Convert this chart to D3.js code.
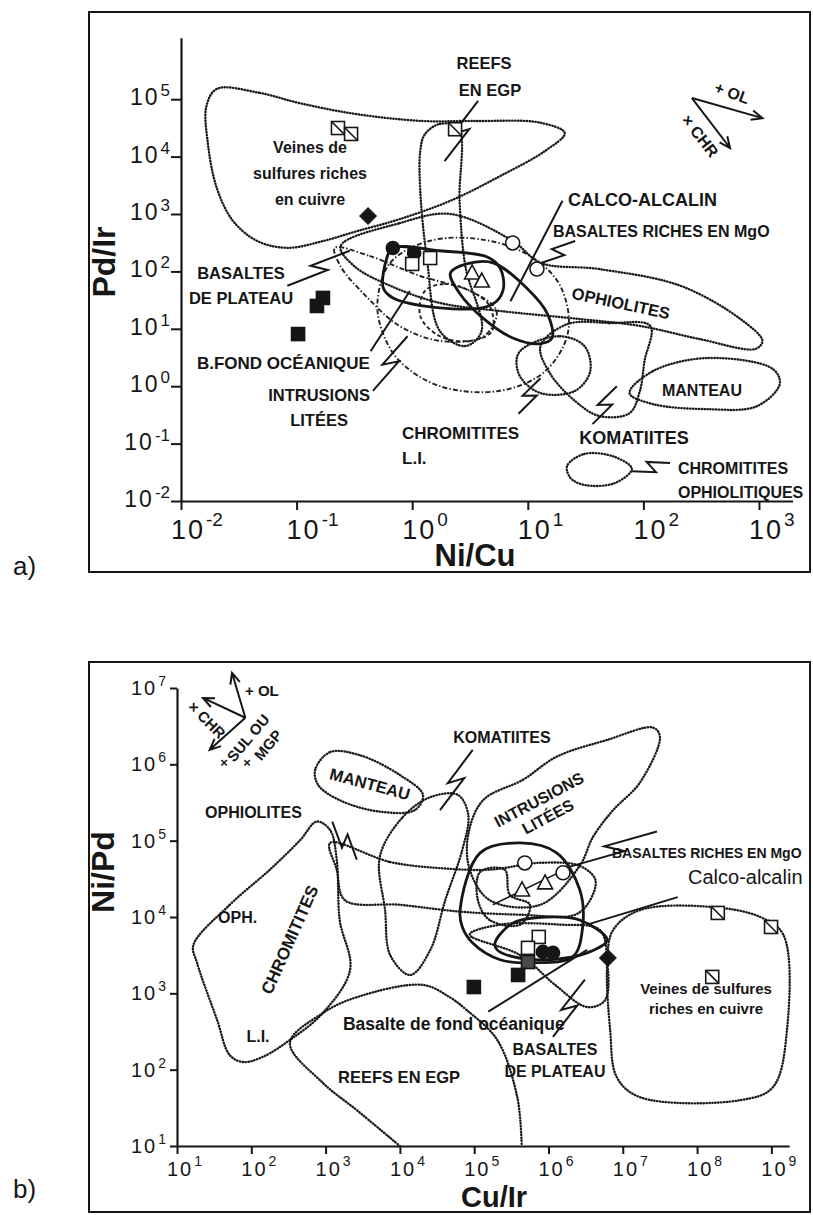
<!DOCTYPE html>
<html>
<head>
<meta charset="utf-8">
<script src="https://cdn.jsdelivr.net/npm/d3@7"></script>
<style>
body { margin: 0; background: #fff; }
svg { font-family: "Liberation Sans", Arial, Helvetica, sans-serif; }
</style>
</head>
<body>
<svg width="813" height="1215"></svg>
<script>
// ---------- panel a : Pd/Ir vs Ni/Cu (fields as [log10 Ni/Cu, log10 Pd/Ir]) ----------
var aTicksX = [1e-2, 1e-1, 1, 10, 100, 1000];
var aTicksY = [1e-2, 1e-1, 1, 10, 100, 1e3, 1e4, 1e5];

var aVeinesField = [[-1.69,5.18],[-1.32,5.11],[-0.97,4.93],[-0.48,4.74],[0.09,4.62],[0.53,4.62],[1.11,4.59],[1.32,4.41],[1.15,4.10],[0.76,3.66],[0.33,3.23],[-0.11,2.91],[-0.48,2.70],[-0.77,2.53],[-1.08,2.41],[-1.34,2.53],[-1.55,2.88],[-1.69,3.45],[-1.77,4.27],[-1.78,4.88]];
var aReefsField = [[0.11,4.39],[0.24,4.57],[0.40,4.50],[0.41,3.23],[0.46,2.09],[0.60,0.96],[0.46,0.70],[0.24,0.96],[0.13,2.18],[0.07,3.40],[0.07,4.10]];
var aOphioliteField = [[-0.62,2.44],[-0.11,2.84],[0.33,3.00],[0.87,2.53],[1.11,2.15],[1.62,2.04],[2.32,1.75],[2.84,1.17],[3.03,0.79],[2.97,0.65],[2.49,0.82],[1.97,1.05],[1.45,1.17],[0.76,1.31],[0.24,1.45],[-0.19,1.75],[-0.50,2.09]];
var aIntrusionField = [[-0.30,1.48],[-0.19,2.15],[0.15,2.53],[0.59,2.56],[1.02,2.27],[1.28,1.75],[1.35,0.96],[1.15,0.26],[0.76,-0.08],[0.24,0.00],[-0.11,0.44],[-0.26,0.96]];
var aPlateauField = [[-0.67,2.41],[-0.37,2.27],[0.07,1.92],[0.50,1.66],[0.73,1.31],[0.62,0.87],[0.24,0.79],[-0.11,1.05],[-0.40,1.57],[-0.62,2.09]];
var aSmallField = [[0.11,1.66],[0.28,1.78],[0.50,1.66],[0.67,1.40],[0.69,0.96],[0.50,0.79],[0.24,0.87],[0.07,1.22]];
var aChromLIField = [[0.99,0.70],[1.28,0.87],[1.49,0.70],[1.54,0.26],[1.41,-0.08],[1.11,-0.12],[0.93,0.18],[0.91,0.53]];
var aKomatiiteField = [[1.34,1.08],[1.71,1.10],[2.06,1.05],[2.01,0.44],[1.97,-0.08],[1.88,-0.47],[1.62,-0.52],[1.41,-0.26],[1.19,0.23],[1.11,0.70]];
var aManteauField = [[1.88,-0.12],[2.08,0.26],[2.55,0.49],[3.12,0.30],[3.18,0.04],[2.98,-0.35],[2.55,-0.40],[2.08,-0.31]];
var aChromOphField = [[1.34,-1.39],[1.49,-1.18],[1.75,-1.23],[1.90,-1.44],[1.75,-1.69],[1.49,-1.72],[1.37,-1.60]];
var aFondField = [[-0.17,2.41],[0.24,2.36],[0.65,2.25],[0.76,2.06],[0.79,1.71],[0.73,1.48],[0.59,1.36],[0.09,1.40],[-0.17,1.54],[-0.25,1.71],[-0.22,2.23]];
var aCalcoField = [[0.33,1.97],[0.47,2.13],[0.70,2.15],[0.99,1.71],[1.17,1.26],[1.21,0.84],[1.11,0.74],[0.87,0.84],[0.61,1.19],[0.41,1.62]];

// samples [Ni/Cu, Pd/Ir]
var aVeinesPts = [[0.228,31500],[0.296,24800]];
var aReefPts = [[2.35,30000]];
var aDiamondPts = [[0.415,922]];
var aFilledCircles = [[0.68,256],[1.04,209]];
var aOpenSquares = [[1.0,135],[1.43,171]];
var aTriangles = [[3.3,94],[4.0,68]];
var aOpenCircles = [[7.4,313],[12,110]];
var aFilledSquares = [[0.169,34.5],[0.15,25],[0.103,8.1]];

// ---------- panel b : Ni/Pd vs Cu/Ir (fields as [log10 Cu/Ir, log10 Ni/Pd]) ----------
var bTicksX = [10, 1e2, 1e3, 1e4, 1e5, 1e6, 1e7, 1e8, 1e9];
var bTicksY = [10, 1e2, 1e3, 1e4, 1e5, 1e6, 1e7];

var bManteauField = [[2.86,5.93],[3.06,6.16],[3.46,6.12],[4.00,5.86],[4.31,5.60],[4.20,5.40],[3.73,5.38],[3.19,5.53],[2.90,5.73]];
var bChromField = [[1.22,3.63],[1.71,4.16],[2.25,4.62],[2.66,5.01],[2.88,5.25],[3.06,5.14],[3.15,4.75],[3.19,3.96],[3.33,3.31],[2.96,2.74],[2.52,2.39],[2.16,2.17],[1.89,2.10],[1.71,2.19],[1.54,2.65],[1.27,3.40]];
var bOphioliteField = [[3.06,4.97],[3.87,4.72],[4.54,4.64],[5.21,4.62],[5.89,4.71],[6.42,4.67],[6.63,4.49],[6.56,4.22],[6.36,4.03],[5.62,4.03],[4.81,4.07],[4.00,4.16],[3.26,4.22],[3.15,4.62]];
var bKomatiiteField = [[3.73,4.79],[4.04,5.31],[4.41,5.57],[4.78,5.60],[4.92,5.34],[4.84,4.88],[4.61,4.22],[4.41,3.57],[4.14,3.24],[3.87,3.50],[3.80,4.09]];
var bIntrusionField = [[5.12,5.53],[5.66,5.80],[6.11,6.10],[6.79,6.32],[7.41,6.48],[7.50,6.36],[7.23,5.76],[6.87,5.40],[6.60,5.05],[6.42,4.67],[5.89,4.16],[5.21,4.22],[4.94,4.62],[4.92,5.08]];
var bReefsLine = [[4.00,1.00],[3.42,1.47],[2.96,1.83],[2.52,2.35],[2.96,2.74],[3.42,2.95],[4.31,3.11],[4.67,2.95],[4.90,2.78],[5.31,2.39],[5.58,1.64],[5.64,1.00]];
var bVeinesField = [[6.87,3.83],[7.23,4.09],[8.21,4.13],[8.85,4.00],[9.16,3.77],[9.21,2.52],[9.02,1.77],[8.58,1.60],[7.23,1.64],[6.92,1.90],[6.83,2.52],[6.79,3.40]];
var bPlateauField = [[4.94,3.77],[5.62,3.50],[6.09,3.11],[6.52,2.82],[6.76,2.91],[6.79,3.44],[6.69,3.83],[6.15,3.90],[5.35,3.90]];
var bInnerField = [[5.08,4.59],[5.41,4.62],[5.48,4.29],[5.75,4.16],[5.62,3.90],[5.21,3.96],[5.05,4.22]];
var bCalcoField = [[4.81,4.09],[5.08,4.84],[5.62,4.97],[6.11,4.84],[6.42,4.36],[6.46,3.87],[6.33,3.48],[5.79,3.40],[5.35,3.44],[4.98,3.66],[4.84,3.87]];
var bFondField = [[5.28,3.66],[5.52,3.92],[5.98,4.00],[6.42,3.96],[6.79,3.70],[6.52,3.53],[5.98,3.44],[5.52,3.48],[5.31,3.57]];

// samples [Cu/Ir, Ni/Pd]
var bVeinesPts = [[1.9e8,11300],[9.9e8,7400],[1.6e8,1640]];
var bTriangles = [[4.4e5,22600],[9.0e5,28000]];
var bOpenCircles = [[4.8e5,51000],[1.57e6,38000]];
var bOpenSquares = [[7.4e5,5480],[5.3e5,3940]];
var bFilledCircles = [[8.4e5,3490],[1.15e6,3390]];
var bGreySquares = [[5.3e5,2570]];
var bFilledSquares = [[3.9e5,1740],[9.9e4,1210]];
var bDiamondPts = [[6.3e6,2910]];

var svg = d3.select("svg");
var INK = "#161616";

var xa = d3.scaleLog().domain([1e-2, Math.pow(10, 3.29)]).range([181, 792.5]);
var ya = d3.scaleLog().domain([1e-2, Math.pow(10, 6.07)]).range([501, 37.8]);
var xb = d3.scaleLog().domain([10, Math.pow(10, 9.24)]).range([177, 789.2]);
var yb = d3.scaleLog().domain([10, 1e7]).range([1146, 688]);

function proj(sx, sy) {
    return function (d) { return [sx(Math.pow(10, d[0])), sy(Math.pow(10, d[1]))]; };
}

var closedCurve = d3.line().curve(d3.curveCatmullRomClosed.alpha(0.5));
var openCurve = d3.line().curve(d3.curveCatmullRom.alpha(0.5));

var styles = {
    dot: { w: 2.4, dash: "0.4,2.5", c: "#1a1a1a", cap: "round" },
    dashdot: { w: 1.9, dash: "5,2.2,1.4,2.2", c: "#222", cap: "butt" },
    dash: { w: 1.9, dash: "4,2.6", c: "#222", cap: "butt" },
    thick: { w: 2.8, dash: null, c: INK, cap: "round" }
};

function field(g, pts, P, st, open) {
    var s = styles[st];
    g.append("path")
        .attr("d", (open ? openCurve : closedCurve)(pts.map(P)))
        .attr("fill", "none").attr("stroke", s.c).attr("stroke-width", s.w)
        .attr("stroke-dasharray", s.dash).attr("stroke-linecap", s.cap).attr("stroke-linejoin", "round");
}

function markers(g, pts, sx, sy, kind) {
    pts.forEach(function (d) {
        var x = sx(d[0]), y = sy(d[1]);
        if (kind === "sq" || kind === "sqf" || kind === "sqg" || kind === "sqd") {
            var h = 6.5;
            g.append("rect").attr("x", x - h).attr("y", y - h).attr("width", 2 * h).attr("height", 2 * h)
                .attr("fill", kind === "sqf" ? INK : kind === "sqg" ? "#4a4a4a" : "#fff")
                .attr("stroke", INK).attr("stroke-width", 1.6);
            if (kind === "sqd") {
                g.append("line").attr("x1", x - h).attr("y1", y - h).attr("x2", x + h).attr("y2", y + h)
                    .attr("stroke", INK).attr("stroke-width", 1.6);
            }
        } else if (kind === "ci" || kind === "cif") {
            g.append("circle").attr("cx", x).attr("cy", y).attr("r", kind === "ci" ? 7 : 6.5)
                .attr("fill", kind === "cif" ? INK : "#fff").attr("stroke", INK).attr("stroke-width", 1.6);
        } else if (kind === "tri") {
            g.append("path").attr("d", "M" + x + "," + (y - 8) + "L" + (x + 7.5) + "," + (y + 6) + "L" + (x - 7.5) + "," + (y + 6) + "Z")
                .attr("fill", "#fff").attr("stroke", INK).attr("stroke-width", 1.6);
        } else if (kind === "dia") {
            g.append("path").attr("d", "M" + x + "," + (y - 8.5) + "L" + (x + 8.5) + "," + y + "L" + x + "," + (y + 8.5) + "L" + (x - 8.5) + "," + y + "Z")
                .attr("fill", INK).attr("stroke", INK).attr("stroke-width", 1);
        }
    });
}

// leader line with a lightning break in the middle
function leader(g, a, b, zig) {
    var d = "M" + a + "L" + b;
    if (zig) {
        var dx = b[0] - a[0], dy = b[1] - a[1], L = Math.hypot(dx, dy);
        var nx = -dy / L * 6, ny = dx / L * 6;
        var m1 = [a[0] + dx * 0.6 + nx, a[1] + dy * 0.6 + ny];
        var m2 = [a[0] + dx * 0.42 - nx, a[1] + dy * 0.42 - ny];
        d = "M" + a + "L" + m1 + "L" + m2 + "L" + b;
    }
    g.append("path").attr("d", d).attr("fill", "none").attr("stroke", INK).attr("stroke-width", 2)
        .attr("stroke-linejoin", "miter");
}

function arrow(g, a, b) {
    var ang = Math.atan2(b[1] - a[1], b[0] - a[0]), h = 12, s = 0.42;
    var d = "M" + a + "L" + b +
        "M" + [b[0] - h * Math.cos(ang - s), b[1] - h * Math.sin(ang - s)] + "L" + b +
        "L" + [b[0] - h * Math.cos(ang + s), b[1] - h * Math.sin(ang + s)];
    g.append("path").attr("d", d).attr("fill", "none").attr("stroke", INK).attr("stroke-width", 2);
}

function labels(g, list, P, defSize) {
    list.forEach(function (l) {
        var p = P(l.at);
        var t = g.append("text")
            .attr("transform", "translate(" + p[0] + "," + p[1] + ")" + (l.r ? " rotate(" + l.r + ")" : ""))
            .attr("text-anchor", l.a || "middle")
            .attr("font-size", l.s || defSize)
            .attr("font-weight", l.w || "bold")
            .attr("fill", INK)
            .text(l.t);
        if (l.c) t.attr("dominant-baseline", "central");
    });
}

function expLabel(g, x, y, v, size, supSize, supDy, anchor) {
    var e = Math.round(Math.log10(v));
    var t = g.append("text").attr("x", x).attr("y", y).attr("text-anchor", anchor)
        .attr("font-size", size).attr("fill", INK);
    t.append("tspan").attr("letter-spacing", 2).text("10");
    t.append("tspan").attr("dy", supDy).attr("dx", 1).attr("font-size", supSize).text(String(e));
}

function styleAxis(ax) {
    ax.selectAll(".domain").attr("stroke", INK).attr("stroke-width", 2.2);
    ax.selectAll(".tick line").attr("stroke", INK).attr("stroke-width", 2);
}

// ===================== PANEL A =====================
var gA = svg.append("g");
var PA = proj(xa, ya);
gA.append("rect").attr("x", 89).attr("y", 12).attr("width", 721).attr("height", 560)
    .attr("fill", "none").attr("stroke", INK).attr("stroke-width", 2);

styleAxis(gA.append("g").attr("transform", "translate(0," + ya(1e-2) + ")")
    .call(d3.axisBottom(xa).tickValues(aTicksX).tickFormat("").tickSize(9).tickSizeOuter(0)));
styleAxis(gA.append("g").attr("transform", "translate(" + xa(1e-2) + ",0)")
    .call(d3.axisLeft(ya).tickValues(aTicksY).tickFormat("").tickSize(10).tickSizeOuter(0)));

aTicksX.forEach(function (v) { expLabel(gA, xa(v) - 10, 539, v, 27, 19, -13, "start"); });
aTicksY.forEach(function (v) { expLabel(gA, xa(1e-2) - 11, ya(v) + 6, v, 23, 17, -9, "end"); });

gA.append("text").attr("transform", "translate(115,262) rotate(-90)").attr("text-anchor", "middle")
    .attr("font-size", 32).attr("font-weight", "bold").attr("fill", INK).text("Pd/Ir");
gA.append("text").attr("x", 475).attr("y", 566).attr("text-anchor", "middle")
    .attr("font-size", 31).attr("font-weight", "bold").attr("fill", INK).text("Ni/Cu");
svg.append("text").attr("x", 13).attr("y", 575).attr("font-size", 26).attr("fill", INK).text("a)");

field(gA, aVeinesField, PA, "dot");
field(gA, aReefsField, PA, "dot");
field(gA, aOphioliteField, PA, "dot");
field(gA, aIntrusionField, PA, "dashdot");
field(gA, aPlateauField, PA, "dashdot");
field(gA, aSmallField, PA, "dash");
field(gA, aChromLIField, PA, "dot");
field(gA, aKomatiiteField, PA, "dot");
field(gA, aManteauField, PA, "dot");
field(gA, aChromOphField, PA, "dot");
field(gA, aFondField, PA, "thick");
field(gA, aCalcoField, PA, "thick");

var aLeaders = [
    { p: [[0.57,4.97],[0.28,3.92]], z: true },
    { p: [[1.30,3.23],[0.85,1.48]], z: false },
    { p: [[1.41,2.53],[1.12,2.15]], z: true },
    { p: [[-1.08,1.75],[-0.54,2.36]], z: true },
    { p: [[-0.36,0.61],[-0.02,1.66]], z: false },
    { p: [[-0.34,-0.08],[-0.04,0.87]], z: true },
    { p: [[0.92,-0.48],[1.11,0.14]], z: true },
    { p: [[1.56,-0.66],[1.77,0.00]], z: true },
    { p: [[1.90,-1.48],[2.23,-1.34]], z: true }
];
aLeaders.forEach(function (l) { leader(gA, PA(l.p[0]), PA(l.p[1]), l.z); });
arrow(gA, PA([2.42,5.02]), PA([3.03,4.67]));
arrow(gA, PA([2.42,5.02]), PA([2.75,4.15]));

markers(gA, aVeinesPts, xa, ya, "sqd");
markers(gA, aReefPts, xa, ya, "sqd");
markers(gA, aDiamondPts, xa, ya, "dia");
markers(gA, aFilledCircles, xa, ya, "cif");
markers(gA, aOpenSquares, xa, ya, "sq");
markers(gA, aTriangles, xa, ya, "tri");
markers(gA, aOpenCircles, xa, ya, "ci");
markers(gA, aFilledSquares, xa, ya, "sqf");

labels(gA, [
    { t: "REEFS", at: [0.621,5.526] },
    { t: "EN EGP", at: [0.673,5.056] },
    { t: "Veines de", at: [-0.884,4.063], s: 16 },
    { t: "sulfures riches", at: [-0.884,3.61], s: 16 },
    { t: "en cuivre", at: [-0.884,3.157], s: 16 },
    { t: "CALCO-ALCALIN", at: [1.348,3.139], a: "start", s: 18 },
    { t: "BASALTES RICHES EN MgO", at: [1.218,2.599], a: "start", s: 16 },
    { t: "OPHIOLITES", at: [1.806,1.449], r: 12, c: true },
    { t: "MANTEAU", at: [2.507,-0.171], s: 16 },
    { t: "KOMATIITES", at: [1.919,-1.007], s: 18 },
    { t: "CHROMITITES", at: [2.299,-1.53], a: "start", s: 16 },
    { t: "OPHIOLITIQUES", at: [2.299,-1.948], a: "start", s: 16 },
    { t: "CHROMITITES", at: [-0.088,-0.92], a: "start", s: 17 },
    { t: "L.I.", at: [-0.088,-1.355], a: "start", s: 17 },
    { t: "BASALTES", at: [-1.481,1.868] },
    { t: "DE PLATEAU", at: [-1.481,1.432] },
    { t: "B.FOND OCÉANIQUE", at: [-1.862,0.30], a: "start", s: 17 },
    { t: "INTRUSIONS", at: [-0.806,-0.258] },
    { t: "LITÉES", at: [-0.806,-0.693] },
    { t: "+ OL", at: [2.766,5.108], r: 20, c: true, s: 16 },
    { t: "× CHR", at: [2.49,4.359], r: 52, c: true, s: 16 }
], PA, 16.5);

// ===================== PANEL B =====================
var gB = svg.append("g");
var PB = proj(xb, yb);
gB.append("rect").attr("x", 89).attr("y", 662).attr("width", 721).attr("height", 550)
    .attr("fill", "none").attr("stroke", INK).attr("stroke-width", 2);

styleAxis(gB.append("g").attr("transform", "translate(0," + yb(10) + ")")
    .call(d3.axisBottom(xb).tickValues(bTicksX).tickFormat("").tickSize(8).tickSizeOuter(0)));
styleAxis(gB.append("g").attr("transform", "translate(" + xb(10) + ",0)")
    .call(d3.axisLeft(yb).tickValues(bTicksY).tickFormat("").tickSize(7).tickSizeOuter(0)));

bTicksX.forEach(function (v) { expLabel(gB, xb(v) - 10, 1176, v, 20, 14, -10, "start"); });
bTicksY.forEach(function (v) { expLabel(gB, xb(10) - 11, yb(v) + 7, v, 20, 14, -9, "end"); });

gB.append("text").attr("transform", "translate(114,872) rotate(-90)").attr("text-anchor", "middle")
    .attr("font-size", 32).attr("font-weight", "bold").attr("fill", INK).text("Ni/Pd");
gB.append("text").attr("x", 494).attr("y", 1207).attr("text-anchor", "middle")
    .attr("font-size", 29).attr("font-weight", "bold").attr("fill", INK).text("Cu/Ir");
svg.append("text").attr("x", 13).attr("y", 1198).attr("font-size", 26).attr("fill", INK).text("b)");

field(gB, bManteauField, PB, "dot");
field(gB, bChromField, PB, "dot");
field(gB, bOphioliteField, PB, "dot");
field(gB, bKomatiiteField, PB, "dot");
field(gB, bIntrusionField, PB, "dot");
field(gB, bReefsLine, PB, "dot", true);
field(gB, bVeinesField, PB, "dot");
field(gB, bPlateauField, PB, "dot");
field(gB, bInnerField, PB, "dot");
field(gB, bCalcoField, PB, "thick");
field(gB, bFondField, PB, "thick");

var bLeaders = [
    { p: [[4.98,6.19],[4.54,5.40]], z: true },
    { p: [[3.09,5.25],[3.42,4.75]], z: true },
    { p: [[6.29,4.66],[7.46,5.12]], z: true },
    { p: [[6.52,3.90],[7.74,4.26]], z: false },
    { p: [[5.19,2.76],[6.52,3.57]], z: false },
    { p: [[6.06,2.43],[6.49,3.18]], z: true }
];
bLeaders.forEach(function (l) { leader(gB, PB(l.p[0]), PB(l.p[1]), l.z); });
gB.append("path").attr("d", d3.line()([[5.25,4.16],[6.22,4.62]].map(PB)))
    .attr("stroke", INK).attr("stroke-width", 1.5);
arrow(gB, PB([1.92,6.61]), PB([1.74,7.20]));
arrow(gB, PB([1.92,6.61]), PB([1.35,6.87]));
arrow(gB, PB([1.92,6.61]), PB([1.44,6.19]));

markers(gB, bVeinesPts, xb, yb, "sqd");
markers(gB, bTriangles, xb, yb, "tri");
markers(gB, bOpenCircles, xb, yb, "ci");
markers(gB, bOpenSquares, xb, yb, "sq");
markers(gB, bGreySquares, xb, yb, "sqg");
markers(gB, bFilledSquares, xb, yb, "sqf");
markers(gB, bFilledCircles, xb, yb, "cif");
markers(gB, bDiamondPts, xb, yb, "dia");

labels(gB, [
    { t: "KOMATIITES", at: [5.374,6.282] },
    { t: "INTRUSIONS", at: [5.872,5.535], r: -28, c: true },
    { t: "LITÉES", at: [5.993,5.312], r: -28, c: true },
    { t: "BASALTES RICHES EN MgO", at: [6.855,4.775], a: "start", s: 14 },
    { t: "Calco-alcalin", at: [7.878,4.434], a: "start", s: 20, w: "normal" },
    { t: "Veines de sulfures", at: [8.12,2.992], s: 15 },
    { t: "riches en cuivre", at: [8.12,2.73], s: 15 },
    { t: "Basalte de fond océanique", at: [3.234,2.52], a: "start", s: 17.5 },
    { t: "BASALTES", at: [6.087,2.193] },
    { t: "DE PLATEAU", at: [6.087,1.904] },
    { t: "REEFS EN EGP", at: [3.988,1.826], s: 16.5 },
    { t: "L.I.", at: [2.09,2.363] },
    { t: "CHROMITITES", at: [2.521,3.70], r: -66, c: true, s: 17 },
    { t: "OPH.", at: [1.552,3.923], a: "start" },
    { t: "OPHIOLITES", at: [1.377,5.299], a: "start" },
    { t: "MANTEAU", at: [3.598,5.744], r: 15, c: true, s: 16.5 },
    { t: "+ OL", at: [1.915,6.898], a: "start", s: 15 },
    { t: "× CHR", at: [1.404,6.583], r: 45, c: true, s: 15 },
    { t: "SUL OU", at: [1.956,6.347], r: -50, c: true, s: 15 },
    { t: "MGP", at: [2.225,6.256], r: -50, c: true, s: 15 },
    { t: "×", at: [1.633,5.967], s: 13 },
    { t: "×", at: [1.942,5.967], s: 13 }
], PB, 16);
</script>
</body>
</html>
